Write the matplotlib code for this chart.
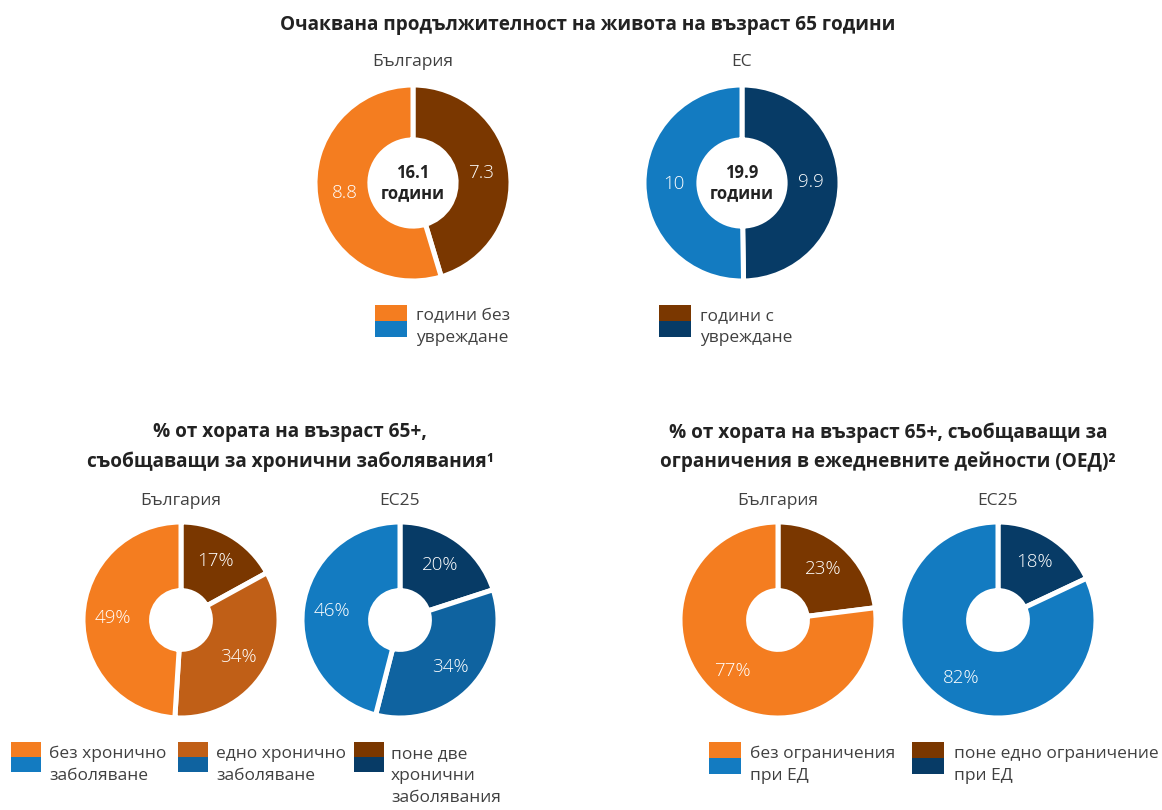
import matplotlib
matplotlib.use("Agg")
import matplotlib.pyplot as plt
from matplotlib.patches import Rectangle

# ______________________________________________________________________________
# Data

# top: life expectancy at 65 (years without / with disability)
le_bg = [7.3, 8.8]
le_eu = [9.9, 10]
le_bg_total = "16.1"
le_eu_total = "19.9"

# bottom left: chronic diseases (%) - at least two, one, none
chronic_bg = [17, 34, 49]
chronic_eu = [20, 34, 46]

# bottom right: limitations in daily activities (%) - at least one, none
adl_bg = [23, 77]
adl_eu = [18, 82]

# ______________________________________________________________________________
# Style

W, H = 1162, 810
plt.rcParams['font.family'] = ['Open Sans', 'DejaVu Sans']

ORANGE = '#F47D20'
ORANGE_MID = '#C05F17'
BROWN = '#7A3700'
BLUE = '#137BC1'
BLUE_MID = '#0F63A0'
NAVY = '#073B66'
GREY = '#404040'
DARK = '#222222'

fig = plt.figure(figsize=(W / 100, H / 100), dpi=100)
fig.patch.set_facecolor('white')


def fx(x):
    return x / W


def fy(y):
    return 1 - y / H


def donut(cx, cy, r, values, colors, width, labels):
    ax = fig.add_axes([fx(cx - r), fy(cy + r), 2 * r / W, 2 * r / H])
    wedges, texts = ax.pie(values, colors=colors, startangle=90, counterclock=False,
                           radius=1, labels=labels, labeldistance=0.70,
                           wedgeprops=dict(width=width, edgecolor='white', linewidth=3.6),
                           textprops=dict(color='white', fontsize=13.5, fontweight='light',
                                          ha='center', va='center'))
    ax.set_xlim(-1, 1)
    ax.set_ylim(-1, 1)
    ax.set_aspect('equal')
    return ax


def legend_patch(x, y, top, bottom, size=31):
    fig.patches.append(Rectangle((fx(x), fy(y + size / 2)), size / W, size / 2 / H,
                                 transform=fig.transFigure, color=top, lw=0))
    fig.patches.append(Rectangle((fx(x), fy(y + size)), size / W, size / 2 / H,
                                 transform=fig.transFigure, color=bottom, lw=0))


def legend_text(x, y, s):
    fig.text(fx(x), fy(y), s, ha='left', va='top', fontsize=12.5, color=GREY,
             linespacing=1.5)


# ______________________________________________________________________________
# Top section

fig.text(fx(588), fy(25), "Очаквана продължителност на живота на възраст 65 години",
         ha='center', va='center', fontsize=13.7, fontweight='bold', color=DARK)
fig.text(fx(413), fy(62), "България", ha='center', va='center', fontsize=12.5, color=GREY)
fig.text(fx(742), fy(62), "ЕС", ha='center', va='center', fontsize=12.5, color=GREY)

ax = donut(413, 183, 98, le_bg, [BROWN, ORANGE], 0.56, [str(v) for v in le_bg])
ax.text(0, 0, le_bg_total + "\nгодини", ha='center', va='center', fontsize=12,
        fontweight='bold', color=DARK, linespacing=1.2)
ax = donut(742, 183, 98, le_eu, [NAVY, BLUE], 0.56, [str(v) for v in le_eu])
ax.text(0, 0, le_eu_total + "\nгодини", ha='center', va='center', fontsize=12,
        fontweight='bold', color=DARK, linespacing=1.2)

legend_patch(375, 305, ORANGE, BLUE, 32)
legend_text(416, 308, "години без\nувреждане")
legend_patch(659, 305, BROWN, NAVY, 32)
legend_text(700, 308, "години с\nувреждане")

# ______________________________________________________________________________
# Bottom left: chronic diseases

fig.text(fx(290), fy(447), "% от хората на възраст 65+,\nсъобщаващи за хронични заболявания¹",
         ha='center', va='center', fontsize=13.7, fontweight='bold', color=DARK,
         linespacing=1.55)
fig.text(fx(181), fy(501), "България", ha='center', va='center', fontsize=12.5, color=GREY)
fig.text(fx(400), fy(501), "ЕС25", ha='center', va='center', fontsize=12.5, color=GREY)

donut(181, 620, 98, chronic_bg, [BROWN, ORANGE_MID, ORANGE], 0.70,
      ["%d%%" % v for v in chronic_bg])
donut(400, 620, 98, chronic_eu, [NAVY, BLUE_MID, BLUE], 0.70,
      ["%d%%" % v for v in chronic_eu])

legend_patch(11, 742, ORANGE, BLUE, 30)
legend_text(49, 746, "без хронично\nзаболяване")
legend_patch(178, 742, ORANGE_MID, BLUE_MID, 30)
legend_text(216, 746, "едно хронично\nзаболяване")
legend_patch(354, 742, BROWN, NAVY, 30)
legend_text(391, 746, "поне две\nхронични\nзаболявания")

# ______________________________________________________________________________
# Bottom right: limitations in daily activities

fig.text(fx(888), fy(447),
         "% от хората на възраст 65+, съобщаващи за\nограничения в ежедневните дейности (ОЕД)²",
         ha='center', va='center', fontsize=13.7, fontweight='bold', color=DARK,
         linespacing=1.55)
fig.text(fx(778), fy(501), "България", ha='center', va='center', fontsize=12.5, color=GREY)
fig.text(fx(998), fy(501), "ЕС25", ha='center', va='center', fontsize=12.5, color=GREY)

donut(778, 620, 98, adl_bg, [BROWN, ORANGE], 0.70, ["%d%%" % v for v in adl_bg])
donut(998, 620, 98, adl_eu, [NAVY, BLUE], 0.70, ["%d%%" % v for v in adl_eu])

legend_patch(709, 742, ORANGE, BLUE, 32)
legend_text(750, 746, "без ограничения\nпри ЕД")
legend_patch(912, 742, BROWN, NAVY, 32)
legend_text(954, 746, "поне едно ограничение\nпри ЕД")

fig.savefig("out.png", dpi=100, facecolor='white')
